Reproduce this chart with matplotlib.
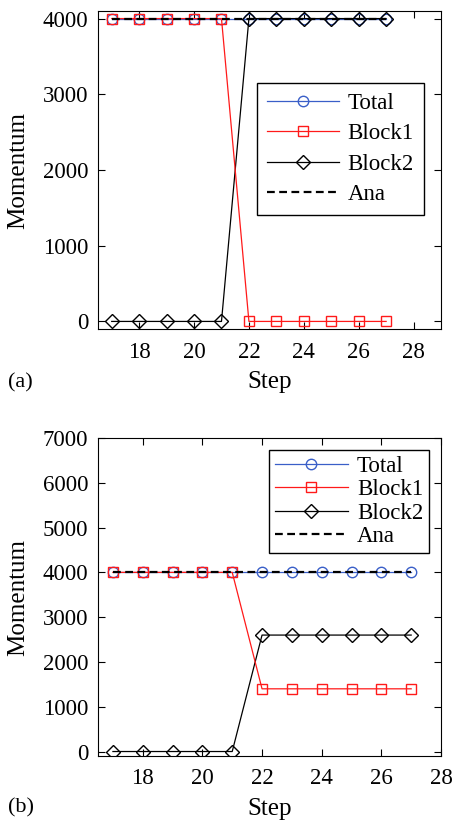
import matplotlib.pyplot as plt
import numpy as np

plt.rcParams['font.family'] = ['Liberation Serif', 'DejaVu Serif']
plt.rcParams['font.size'] = 16.5

steps = [17, 18, 19, 20, 21, 22, 23, 24, 25, 26, 27]

# panel (a)
total_a = [4000] * 11
block1_a = [4000, 4000, 4000, 4000, 4000, 0, 0, 0, 0, 0, 0]
block2_a = [0, 0, 0, 0, 0, 4000, 4000, 4000, 4000, 4000, 4000]
ana_a = [4000] * 11

# panel (b)
total_b = [4000] * 11
block1_b = [4000, 4000, 4000, 4000, 4000, 1400, 1400, 1400, 1400, 1400, 1400]
block2_b = [0, 0, 0, 0, 0, 2600, 2600, 2600, 2600, 2600, 2600]
ana_b = [4000] * 11

BLUE = '#3a5fc8'
RED = '#ff1a1a'


def draw(ax, total, block1, block2, ana):
    ax.plot(steps, total, color=BLUE, marker='o', mfc='none', ms=7.5, lw=0.9, mew=1.0, label='Total')
    ax.plot(steps, block2, color='black', marker='D', mfc='none', ms=7, lw=0.9, mew=1.0, label='Block2', zorder=3)
    ax.plot(steps, block1, color=RED, marker='s', mfc='none', ms=6.5, lw=0.9, mew=1.0, label='Block1', zorder=4)
    ax.plot(steps, ana, color='black', ls='--', lw=1.6, dashes=(3.5, 2), label='Ana', zorder=5)
    ax.tick_params(direction='in', top=True, right=True, length=5, width=0.8)
    ax.tick_params(axis='x', pad=9)
    ax.tick_params(axis='y', pad=7)
    ax.set_xlabel('Step', fontsize=18, labelpad=6)
    ax.set_ylabel('Momentum', fontsize=18, labelpad=10)
    handles, labels = ax.get_legend_handles_labels()
    order = [0, 2, 1, 3]
    return [handles[i] for i in order], [labels[i] for i in order]


fig = plt.figure(figsize=(4.53, 8.23), dpi=100)
ax1 = fig.add_axes([98 / 453, 1 - 329 / 823, 343 / 453, 318 / 823])
ax2 = fig.add_axes([98 / 453, 1 - 756 / 823, 343 / 453, 318 / 823])

h, l = draw(ax1, total_a, block1_a, block2_a, ana_a)
ax1.set_xlim(16.5, 29)
ax1.set_ylim(-100, 4100)
ax1.set_xticks([18, 20, 22, 24, 26, 28])
ax1.set_yticks([0, 1000, 2000, 3000, 4000])
leg = ax1.legend(h, l, loc='upper left', bbox_to_anchor=(0.464, 0.774), fancybox=False,
                 edgecolor='black', framealpha=1, borderpad=0.45, labelspacing=0.4,
                 handlelength=3.1, handletextpad=0.4, borderaxespad=0, fontsize=16.5)
leg.get_frame().set_linewidth(1.0)

h, l = draw(ax2, total_b, block1_b, block2_b, ana_b)
ax2.set_xlim(16.5, 28)
ax2.set_ylim(-100, 7000)
ax2.set_xticks([18, 20, 22, 24, 26, 28])
ax2.set_yticks([0, 1000, 2000, 3000, 4000, 5000, 6000, 7000])
leg = ax2.legend(h, l, loc='upper right', bbox_to_anchor=(0.965, 0.962), fancybox=False,
                 edgecolor='black', framealpha=1, borderpad=0.25, labelspacing=0.1,
                 handlelength=3.2, handletextpad=0.4, borderaxespad=0, fontsize=16.5)
leg.get_frame().set_linewidth(1.0)

fig.text(8 / 453, 1 - 383 / 823, '(a)', fontsize=16, va='center')
fig.text(8 / 453, 1 - 808 / 823, '(b)', fontsize=16, va='center')

fig.savefig('out.png', dpi=100)
